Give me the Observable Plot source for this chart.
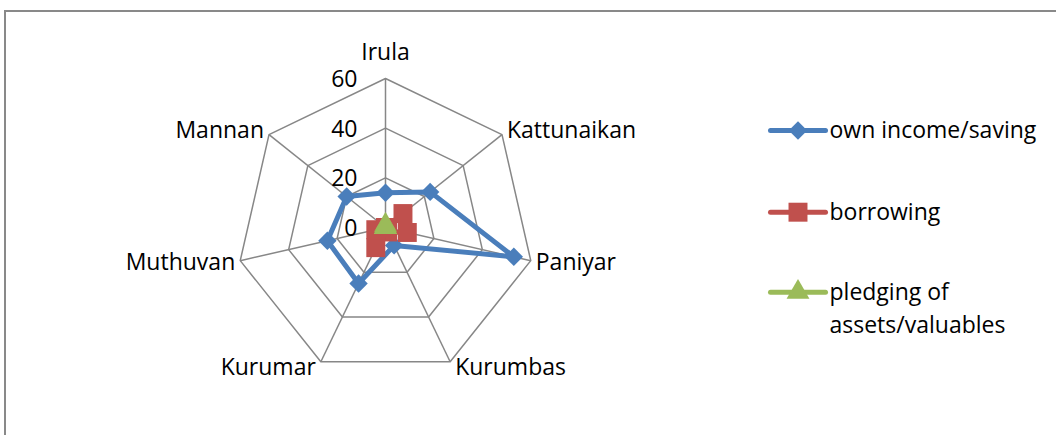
<!DOCTYPE html>
<html><head><meta charset="utf-8">
<script src="https://cdn.jsdelivr.net/npm/d3@7"></script>
<script src="https://cdn.jsdelivr.net/npm/@observablehq/plot@0.6"></script>
<style>
html,body{margin:0;padding:0;background:#fff;overflow:hidden;}
#wrap{position:relative;width:1056px;height:435px;overflow:hidden;}
#frame{position:absolute;left:4px;top:10px;width:1200px;height:600px;border:2px solid #898989;box-sizing:border-box;}
#chart{position:absolute;left:0;top:0;}
</style></head><body>
<div id="wrap"><div id="frame"></div><div id="chart"></div></div>
<script>
// ---- data ----
const categories = ["Irula", "Kattunaikan", "Paniyar", "Kurumbas", "Kurumar", "Muthuvan", "Mannan"];
const ownIncome = [14, 23, 53, 8, 25, 24, 20];
const borrowing = [0, 9, 9, 2, 9, 4, 0];
const pledging = [1, 0, 0, 0, 0, 0, 0];
const seriesNames = ["own income/saving", "borrowing", "pledging of assets/valuables"];
const seriesColors = ["#4a7ebb", "#c0504d", "#9bbb59"];
const seriesSymbols = ["diamond2", "square", "triangle"];
const tickValues = [0, 20, 40, 60];

// ---- layout ----
const W = 1056, H = 435;
const cx = 385, cy = 227, R = 149, maxV = 60;
const k = R / maxV; // px per unit
const FONT = "'Open Sans', sans-serif";
const FS = 23;
const n = categories.length;
const ang = i => i * 2 * Math.PI / n;
const px = p => (p - cx) / k;   // px -> x data
const py = p => (cy - p) / k;   // px -> y data

const rings = tickValues.filter(t => t > 0).flatMap(t =>
  categories.map((c, i) => ({ring: t, x: t * Math.sin(ang(i)), y: t * Math.cos(ang(i))})));
const spokes = categories.map((c, i) => ({x2: maxV * Math.sin(ang(i)), y2: maxV * Math.cos(ang(i))}));

const allSeries = [ownIncome, borrowing, pledging];
const rows = allSeries.flatMap((vals, s) => vals.map((v, i) => ({
  series: seriesNames[s], s, x: v * Math.sin(ang(i)), y: v * Math.cos(ang(i))
})));

const labels = categories.map((c, i) => {
  const sn = Math.sin(ang(i)), cs = Math.cos(ang(i));
  const side = Math.abs(sn) < 0.1 ? "middle" : (sn > 0 ? "start" : "end");
  const dxp = side === "middle" ? 0 : Math.sign(sn) * 5;
  const dyp = side === "middle" ? -26 : -cs * 7;
  return {name: c, side, x: maxV * sn + dxp / k, y: maxV * cs - dyp / k};
});

const legendY = [130, 211.7, 291.7];
const legend = seriesNames.map((s, j) => ({
  name: j === 2 ? "pledging of\nassets/valuables" : s, j,
  x1: px(770), x2: px(825), xm: px(797.5), xt: px(829), y: py(legendY[j])
}));

const marks = [
  Plot.line(rings, {x: "x", y: "y", z: "ring", curve: "linear-closed", stroke: "#878787", strokeWidth: 1.5}),
  Plot.link(spokes, {x1: 0, y1: 0, x2: "x2", y2: "y2", stroke: "#878787", strokeWidth: 1.5}),
  Plot.text(tickValues, {x: 0, y: d => d, text: d => String(d), textAnchor: "end", dx: -28, dy: 1,
    fontSize: FS, fontFamily: FONT, fill: "#000"}),
];
[0, 1, 2].forEach(s => {
  const data = rows.filter(r => r.s === s);
  marks.push(Plot.line(data, {x: "x", y: "y", curve: "linear-closed", stroke: seriesColors[s], strokeWidth: 5, strokeLinejoin: "round"}));
  const r = s === 0 ? 8.3 : s === 1 ? 10.7 : 8.5;
  marks.push(Plot.dot(data, {x: "x", y: "y", symbol: seriesSymbols[s], r, fill: seriesColors[s], stroke: "none"}));
});
["middle", "start", "end"].forEach(side => {
  marks.push(Plot.text(labels.filter(l => l.side === side), {x: "x", y: "y", text: "name", textAnchor: side,
    lineAnchor: "middle", fontSize: FS, fontFamily: FONT, fill: "#000"}));
});
// legend
[0, 1, 2].forEach(j => {
  const d = [legend[j]];
  marks.push(Plot.link(d, {x1: "x1", x2: "x2", y1: "y", y2: "y", stroke: seriesColors[j], strokeWidth: 5, strokeLinecap: "round"}));
  const r = j === 0 ? 8.3 : j === 1 ? 10.7 : 8.5;
  marks.push(Plot.dot(d, {x: "xm", y: "y", symbol: seriesSymbols[j], r, fill: seriesColors[j], stroke: "none"}));
});
marks.push(Plot.text(legend, {x: "xt", y: "y", text: "name", textAnchor: "start", lineAnchor: "top", dy: -16,
  lineHeight: 1.45, fontSize: FS, fontFamily: FONT, fill: "#000"}));

const chart = Plot.plot({
  width: W, height: H,
  marginTop: 0, marginBottom: 0, marginLeft: 0, marginRight: 0,
  x: {domain: [-cx / k, (W - cx) / k], axis: null},
  y: {domain: [-(H - cy) / k, cy / k], axis: null},
  style: {background: "transparent", fontFamily: FONT},
  marks
});
document.getElementById("chart").appendChild(chart);
</script>
</body></html>
